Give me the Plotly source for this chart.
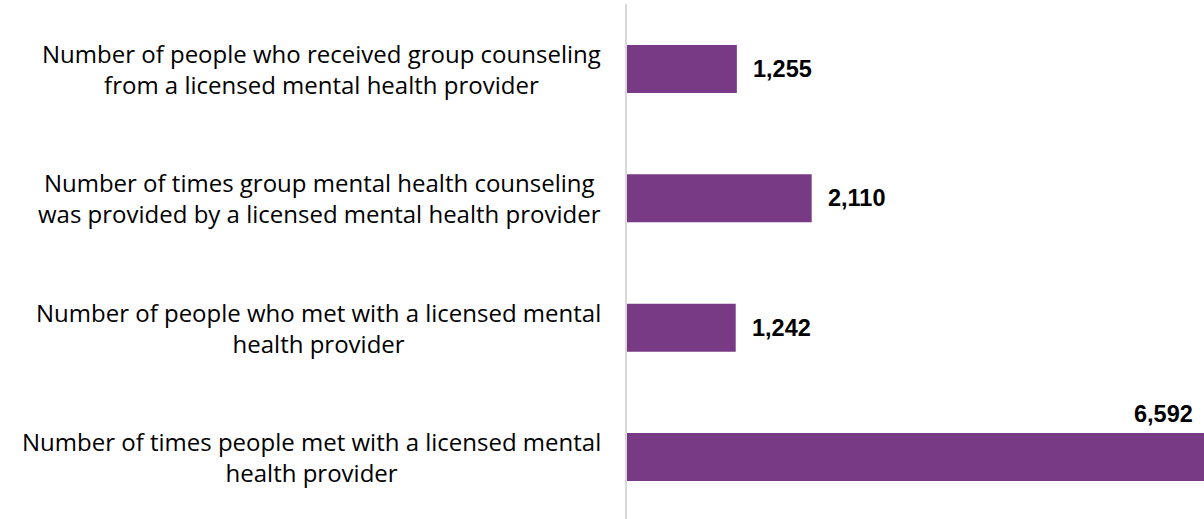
import plotly.graph_objects as go

categories = [
    "Number of people who received group counseling<br>from a licensed mental health provider",
    "Number of times group mental health counseling<br>was provided by a licensed mental health provider",
    "Number of people who met with a licensed mental<br>health provider",
    "Number of times people met with a licensed mental<br>health provider",
]
values = [1255, 2110, 1242, 6592]
value_labels = ["1,255", "2,110", "1,242", "6,592"]

bar_color = "#783A84"

fig = go.Figure()
fig.add_trace(go.Bar(
    y=list(range(len(categories))),
    x=values,
    orientation="h",
    marker=dict(color=bar_color, line=dict(width=0)),
    width=0.371,
    hoverinfo="skip",
))

annotations = []
for i, (cat, v, lab) in enumerate(zip(categories, values, value_labels)):
    annotations.append(dict(
        xref="paper", yref="y", x=0, y=i, xshift=-24,
        text=cat, showarrow=False, xanchor="right", yanchor="middle",
        align="center", font=dict(family="Open Sans", size=24, color="#000000"),
    ))
    if i == len(categories) - 1:
        annotations.append(dict(
            xref="x", yref="y", x=v, y=i, xshift=-9, yshift=43,
            text="<b>" + lab + "</b>", showarrow=False, xanchor="right", yanchor="middle",
            font=dict(family="Liberation Sans, Arial", size=23.5, color="#000000"),
        ))
    else:
        annotations.append(dict(
            xref="x", yref="y", x=v, y=i, xshift=14,
            text="<b>" + lab + "</b>", showarrow=False, xanchor="left", yanchor="middle",
            font=dict(family="Liberation Sans, Arial", size=23.5, color="#000000"),
        ))

fig.update_layout(
    width=1204, height=519,
    margin=dict(l=627, r=0, t=4, b=0),
    plot_bgcolor="white", paper_bgcolor="white",
    showlegend=False,
    annotations=annotations,
    xaxis=dict(range=[0, 6592], showgrid=False, zeroline=False, showticklabels=False,
               showline=False, ticks=""),
    yaxis=dict(range=[3.479, -0.5026], showgrid=False, zeroline=False, showticklabels=False,
               showline=True, linecolor="#D9D9D9", linewidth=2, ticks=""),
)

fig.write_html("out.html", config={"displayModeBar": False},
               post_script="document.body.style.margin='0';document.body.style.overflow='hidden';")
